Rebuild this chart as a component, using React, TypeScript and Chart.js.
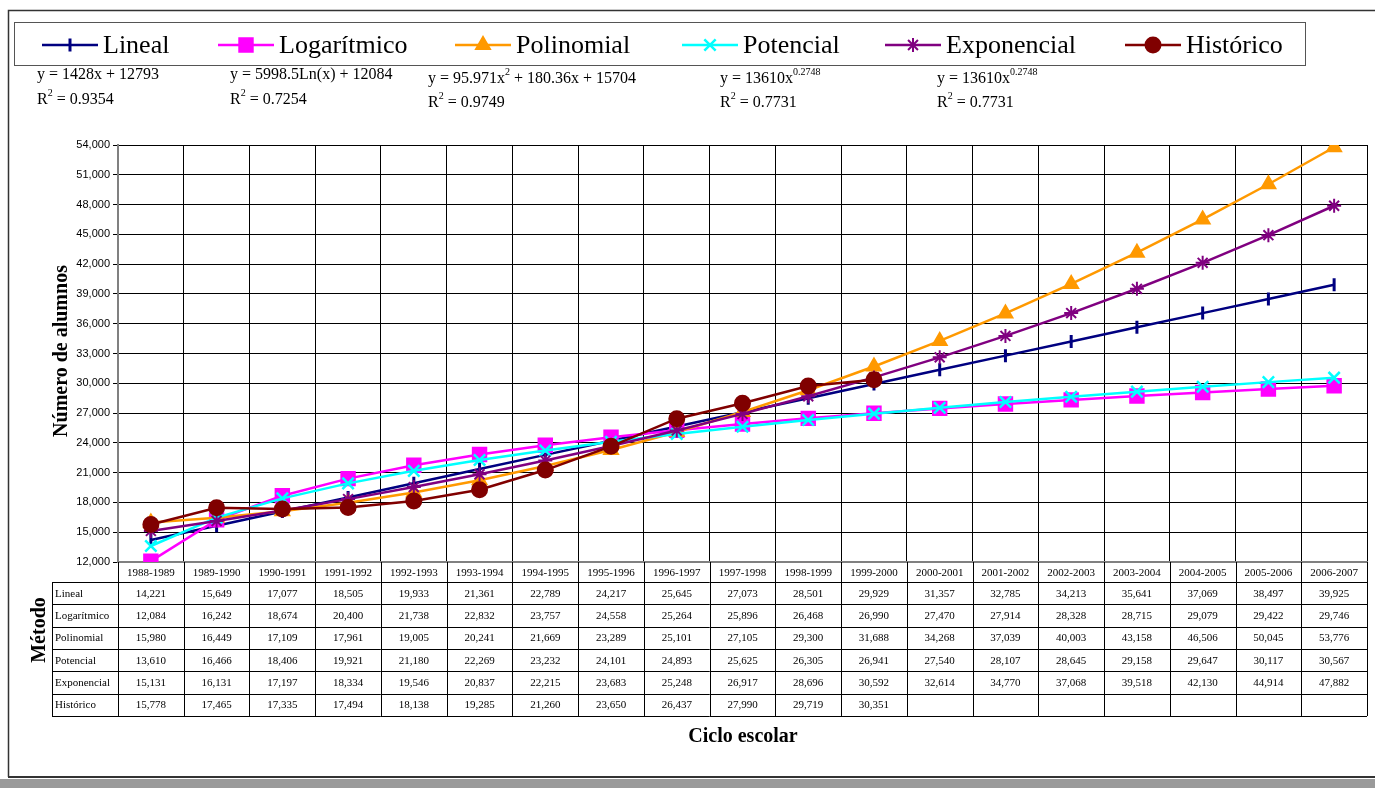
import React, { useEffect, useRef } from 'react';
import { Chart, registerables } from 'chart.js';
import { drawPoint } from 'chart.js/helpers';

Chart.register(...registerables);

const categories = [
  '1988-1989', '1989-1990', '1990-1991', '1991-1992', '1992-1993', '1993-1994', '1994-1995',
  '1995-1996', '1996-1997', '1997-1998', '1998-1999', '1999-2000', '2000-2001', '2001-2002',
  '2002-2003', '2003-2004', '2004-2005', '2005-2006', '2006-2007',
];

const seriesNames = ['Lineal', 'Logarítmico', 'Polinomial', 'Potencial', 'Exponencial', 'Histórico'];

const lineal = [14221, 15649, 17077, 18505, 19933, 21361, 22789, 24217, 25645, 27073, 28501, 29929, 31357, 32785, 34213, 35641, 37069, 38497, 39925];
const logaritmico = [12084, 16242, 18674, 20400, 21738, 22832, 23757, 24558, 25264, 25896, 26468, 26990, 27470, 27914, 28328, 28715, 29079, 29422, 29746];
const polinomial = [15980, 16449, 17109, 17961, 19005, 20241, 21669, 23289, 25101, 27105, 29300, 31688, 34268, 37039, 40003, 43158, 46506, 50045, 53776];
const potencial = [13610, 16466, 18406, 19921, 21180, 22269, 23232, 24101, 24893, 25625, 26305, 26941, 27540, 28107, 28645, 29158, 29647, 30117, 30567];
const exponencial = [15131, 16131, 17197, 18334, 19546, 20837, 22215, 23683, 25248, 26917, 28696, 30592, 32614, 34770, 37068, 39518, 42130, 44914, 47882];
const historico: (number | null)[] = [15778, 17465, 17335, 17494, 18138, 19285, 21260, 23650, 26437, 27990, 29719, 30351, null, null, null, null, null, null, null];

const seriesData = [lineal, logaritmico, polinomial, potencial, exponencial, historico];

const yMin = 12000;
const yMax = 54000;
const yStep = 3000;

const equationTexts = [
  'y = 1428x + 12793',
  'y = 5998.5Ln(x) + 12084',
  'y = 95.971x^2^ + 180.36x + 15704',
  'y = 13610x^0.2748^',
  'y = 13610x^0.2748^',
];
const r2Values = ['0.9354', '0.7254', '0.9749', '0.7731', '0.7731'];

const yTitle = 'Número de alumnos';
const xTitle = 'Ciclo escolar';
const tableTitle = 'Método';

// styles
const colors = ['#000080', '#FF00FF', '#FF9900', '#00FFFF', '#800080', '#800000'];
const pStyles = ['line', 'rect', 'triangle', 'crossRot', 'star', 'circle'];
const pRadius = [6.5, 9.5, 8, 8, 7, 7.5];
const pRotation = [90, 0, 0, 0, 0, 0];
const pBorder = [3, 2, 2, 2.5, 2, 2];

const SERIF = '"Liberation Serif", "Times New Roman", Times, serif';
const SANS = '"Liberation Sans", Arial, Helvetica, sans-serif';

function fmt(v: number | null) {
  if (v === null || v === undefined) return '';
  return v.toLocaleString('en-US');
}

function drawRich(ctx: CanvasRenderingContext2D, text: string, x: number, y: number, size: number) {
  const parts = text.split('^');
  let cx = x;
  parts.forEach((p, i) => {
    const sup = i % 2 === 1;
    ctx.font = `${sup ? Math.round(size * 0.62) : size}px ${SERIF}`;
    ctx.fillText(p, cx, sup ? y - size * 0.4 : y);
    cx += ctx.measureText(p).width;
  });
}

const eqPos = [
  [37, 75, 100],
  [230, 75, 100],
  [428, 79, 103],
  [720, 79, 103],
  [937, 79, 103],
];
const legendLineStarts = [42, 218, 455, 682, 885, 1125];

const decorPlugin = {
  id: 'decor',
  afterDraw(chart: any) {
    const ctx: CanvasRenderingContext2D = chart.ctx;
    const area = chart.chartArea;
    const xs = chart.scales.x;
    ctx.save();

    // outer frame
    ctx.strokeStyle = '#333';
    ctx.lineWidth = 1.5;
    ctx.beginPath();
    ctx.moveTo(1375, 10.5);
    ctx.lineTo(8.5, 10.5);
    ctx.lineTo(8.5, 777);
    ctx.stroke();
    ctx.fillStyle = '#333';
    ctx.fillRect(8, 776, 1367, 2);
    ctx.fillStyle = '#9a9a9a';
    ctx.fillRect(0, 779, 1375, 9);

    // legend
    ctx.strokeStyle = '#555';
    ctx.lineWidth = 1;
    ctx.strokeRect(14.5, 22.5, 1291, 43);
    const ly = 45;
    seriesNames.forEach((name, i) => {
      const x0 = legendLineStarts[i];
      ctx.strokeStyle = colors[i];
      ctx.lineWidth = 2.5;
      ctx.beginPath();
      ctx.moveTo(x0, ly);
      ctx.lineTo(x0 + 56, ly);
      ctx.stroke();
      ctx.fillStyle = colors[i];
      ctx.strokeStyle = colors[i];
      ctx.lineWidth = pBorder[i];
      drawPoint(ctx, { pointStyle: pStyles[i], radius: pRadius[i], borderWidth: pBorder[i], rotation: pRotation[i] } as any, x0 + 28, ly);
      ctx.fillStyle = '#000';
      ctx.font = `26px ${SERIF}`;
      ctx.textAlign = 'left';
      ctx.textBaseline = 'middle';
      ctx.fillText(name, x0 + 61, ly + 1);
    });

    // equations
    ctx.fillStyle = '#000';
    ctx.textAlign = 'left';
    ctx.textBaseline = 'middle';
    equationTexts.forEach((t, i) => {
      const [ex, ey1, ey2] = eqPos[i];
      drawRich(ctx, t, ex, ey1, 16);
      drawRich(ctx, 'R^2^ = ' + r2Values[i], ex, ey2, 16);
    });

    // data table
    const n = categories.length;
    const colW = (area.right - area.left) / n;
    const top = area.bottom;
    const headBottom = top + 20;
    const rowH = 22.33;
    const tableBottom = headBottom + rowH * seriesNames.length;
    const tableLeft = 52;

    ctx.strokeStyle = '#000';
    ctx.lineWidth = 1;
    ctx.beginPath();
    for (let k = 0; k <= n; k++) {
      const x = Math.round(area.left + k * colW) + 0.5;
      ctx.moveTo(x, top);
      ctx.lineTo(x, tableBottom);
    }
    ctx.moveTo(tableLeft + 0.5, headBottom);
    ctx.lineTo(tableLeft + 0.5, tableBottom);
    for (let r = 0; r <= seriesNames.length; r++) {
      const y = Math.round(headBottom + r * rowH) + 0.5;
      ctx.moveTo(tableLeft, y);
      ctx.lineTo(area.right, y);
    }
    ctx.stroke();

    ctx.fillStyle = '#000';
    ctx.font = `11px ${SERIF}`;
    ctx.textBaseline = 'middle';
    ctx.textAlign = 'center';
    categories.forEach((c, i) => {
      ctx.fillText(c, xs.getPixelForTick(i), top + 11);
    });
    seriesNames.forEach((name, r) => {
      const cy = headBottom + rowH * (r + 0.5) + 0.5;
      ctx.textAlign = 'left';
      ctx.fillText(name, tableLeft + 3, cy);
      ctx.textAlign = 'center';
      seriesData[r].forEach((v, i) => {
        const s = fmt(v as any);
        if (s) ctx.fillText(s, xs.getPixelForTick(i), cy);
      });
    });

    // titles
    ctx.font = `bold 20px ${SERIF}`;
    ctx.textAlign = 'center';
    ctx.textBaseline = 'middle';
    ctx.fillText(xTitle, 743, 737);
    ctx.save();
    ctx.translate(62, 351);
    ctx.rotate(-Math.PI / 2);
    ctx.fillText(yTitle, 0, 0);
    ctx.restore();
    ctx.save();
    ctx.translate(40, 630);
    ctx.rotate(-Math.PI / 2);
    ctx.fillText(tableTitle, 0, 0);
    ctx.restore();

    ctx.restore();
  },
};

export default function App() {
  const ref = useRef<HTMLCanvasElement | null>(null);
  useEffect(() => {
    document.body.style.margin = '0';
    const canvas = ref.current!;
    const chart = new Chart(canvas, {
      type: 'line',
      data: {
        labels: categories,
        datasets: seriesNames.map((name, i) => ({
          label: name,
          data: seriesData[i] as any,
          borderColor: colors[i],
          backgroundColor: colors[i],
          borderWidth: 2.5,
          pointStyle: pStyles[i] as any,
          pointRadius: pRadius[i],
          pointRotation: pRotation[i],
          pointBorderWidth: pBorder[i],
          pointBackgroundColor: colors[i],
          pointBorderColor: colors[i],
          tension: 0,
          spanGaps: false,
          fill: false,
          order: seriesNames.length - 1 - i,
        })),
      },
      options: {
        animation: false,
        responsive: false,
        devicePixelRatio: 1,
        events: [],
        layout: { autoPadding: false, padding: { left: 68, top: 145, right: 8, bottom: 226 } },
        plugins: {
          legend: { display: false },
          title: { display: false },
          tooltip: { enabled: false },
        },
        scales: {
          x: {
            type: 'category',
            offset: true,
            grid: { offset: true, color: '#000', lineWidth: 1, drawTicks: false },
            ticks: { display: false },
            border: { color: '#808080', width: 2 },
            afterFit: (s: any) => { s.height = 0; },
          },
          y: {
            min: yMin,
            max: yMax,
            ticks: {
              stepSize: yStep,
              color: '#000',
              font: { family: SANS, size: 11 },
              padding: 3,
              callback: (v: any) => Number(v).toLocaleString('en-US'),
            },
            grid: { color: '#000', lineWidth: 1, tickLength: 5 },
            border: { color: '#808080', width: 2 },
            afterFit: (s: any) => { s.width = 50; },
          },
        },
      },
      plugins: [decorPlugin],
    });
    return () => chart.destroy();
  }, []);
  return (
    <canvas
      ref={ref}
      width={1375}
      height={788}
      style={{ position: 'absolute', left: 0, top: 0, width: 1375, height: 788, display: 'block' }}
    />
  );
}
